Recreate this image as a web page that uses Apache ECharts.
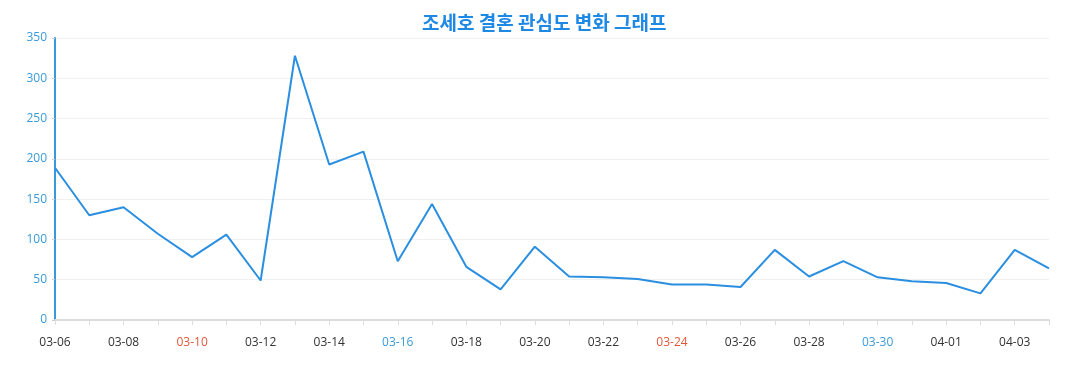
<!DOCTYPE html>
<html><head><meta charset="utf-8">
<script src="https://cdn.jsdelivr.net/npm/echarts@6/dist/echarts.min.js"></script>
<style>html,body{margin:0;padding:0;background:#fff}#c{width:1077px;height:390px}</style>
</head><body><div id="c"></div>
<script>
const categories = ['03-06','03-07','03-08','03-09','03-10','03-11','03-12','03-13','03-14','03-15','03-16','03-17','03-18','03-19','03-20','03-21','03-22','03-23','03-24','03-25','03-26','03-27','03-28','03-29','03-30','03-31','04-01','04-02','04-03','04-04'];
const values = [189,130,140,107,78,106,49,328,193,209,73,144,66,38,91,54,53,51,44,44,41,87,54,73,53,48,46,33,87,64];
const redLabels = ['03-10','03-24'];
const blueLabels = ['03-16','03-30'];
const titleText = '조세호 결혼 관심도 변화 그래프';

const chart = echarts.init(document.getElementById('c'));
chart.setOption({
  animation:false,
  title:{text:titleText,left:417,top:8,textStyle:{color:'#1e88e5',fontSize:19,fontWeight:'bold',fontFamily:'Noto Sans CJK KR'}},
  grid:{left:55,right:28,top:38,bottom:70},
  xAxis:{type:'category',data:categories,boundaryGap:false,
    axisLine:{lineStyle:{color:'#dddddd',width:2}},
    axisTick:{show:true,interval:0,lineStyle:{color:'#dddddd'}},
    axisLabel:{interval:1,margin:17,fontSize:12,fontFamily:'Open Sans',
      color:function(v){return redLabels.includes(v)?'#e0573a':(blueLabels.includes(v)?'#3a9ad9':'#333333');}}
  },
  yAxis:{type:'value',min:0,max:350,interval:50,
    axisLine:{show:true,lineStyle:{color:'#3a9ad9',width:2}},
    axisTick:{show:true,length:3,lineStyle:{color:'#cccccc'}},
    axisLabel:{color:'#3a9ad9',fontSize:12,fontFamily:'Open Sans',margin:8},
    splitLine:{lineStyle:{color:'#f0f0f0'}}
  },
  series:[{type:'line',data:values,showSymbol:false,symbol:'none',lineStyle:{color:'#2a8fe0',width:2}}]
});
</script></body></html>
